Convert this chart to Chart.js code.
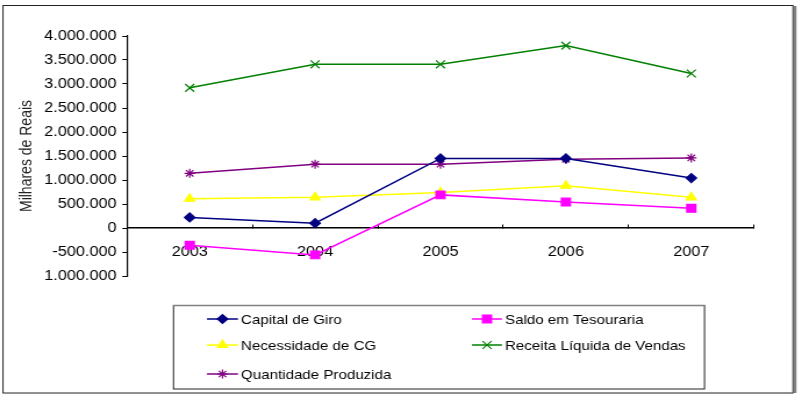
<!DOCTYPE html>
<html>
<head>
<meta charset="utf-8">
<script src="https://cdn.jsdelivr.net/npm/chart.js@4/dist/chart.umd.min.js"></script>
<style>
  html, body { margin: 0; padding: 0; background: #fff; }
  #myChart { display: block; }
</style>
</head>
<body>
<!-- drawn narrow, then stretched sideways like the original picture -->
<canvas id="myChart" width="690" height="398" style="width:802px;height:398px"></canvas>
<script>
const years = ['2003', '2004', '2005', '2006', '2007'];

const capitalDeGiro = [220000, 100000, 1450000, 1450000, 1040000];
const saldoTesouraria = [-360000, -560000, 690000, 540000, 410000];
const necessidadeCG = [610000, 640000, 740000, 880000, 640000];
const receitaLiquida = [2920000, 3410000, 3410000, 3800000, 3220000];
const quantidadeProduzida = [1140000, 1330000, 1330000, 1430000, 1460000];

const yMin = -1000000;
const yMax = 4000000;
const yStep = 500000;

const seriesNames = ['Capital de Giro', 'Saldo em Tesouraria', 'Necessidade de CG', 'Receita Líquida de Vendas', 'Quantidade Produzida'];

const SX = 802 / 690; // horizontal stretch of the picture

function fmtReais(v) {
    const s = String(Math.abs(v)).replace(/\B(?=(\d{3})+(?!\d))/g, '.');
    // the bottom label shows no minus sign in the original
    if (v < 0 && v > yMin) return '-' + s;
    return s;
}

function makeSet(label, data, color, style, radius) {
    return {
        label: label,
        data: data,
        borderColor: color,
        backgroundColor: color,
        pointBackgroundColor: color,
        pointBorderColor: color,
        pointStyle: style,
        pointRadius: radius,
        pointHoverRadius: radius,
        pointBorderWidth: 1.2,
        borderWidth: 1.5,
        tension: 0,
        fill: false
    };
}

// legend and outer frame, drawn in canvas units (x already divided by SX)
const frameAndLegend = {
    id: 'frameAndLegend',
    afterDraw(chart) {
        const c = chart.ctx;
        c.save();
        // outer frame
        c.strokeStyle = '#222';
        c.lineWidth = 1;
        c.strokeRect(3 / SX, 5.5, 790 / SX, 387.5);
        c.strokeStyle = '#808080';
        c.lineWidth = 2.5;
        c.beginPath();
        c.moveTo(795 / SX, 6);
        c.lineTo(795 / SX, 393);
        c.stroke();

        // legend box
        c.strokeStyle = '#222';
        c.lineWidth = 1;
        c.strokeRect(173.5 / SX, 305.5, 531 / SX, 83.5);
        c.strokeStyle = '#808080';
        c.lineWidth = 1.5;
        c.beginPath();
        c.moveTo(173 / SX, 305.5);
        c.lineTo(705 / SX, 305.5);
        c.stroke();

        const cols = [[207, 238, 241], [472, 502, 505]];
        const rows = [319, 345, 374];
        c.font = '13px "Liberation Sans", Arial, sans-serif';
        c.textBaseline = 'middle';
        chart.data.datasets.forEach((ds, i) => {
            const col = cols[i % 2];
            const y = rows[Math.floor(i / 2)];
            c.strokeStyle = ds.borderColor;
            c.lineWidth = 1.5;
            c.beginPath();
            c.moveTo(col[0] / SX, y);
            c.lineTo(col[1] / SX, y);
            c.stroke();
            c.fillStyle = ds.borderColor;
            c.strokeStyle = ds.borderColor;
            c.lineWidth = 1.2;
            Chart.helpers.drawPoint(c, {
                pointStyle: ds.pointStyle,
                radius: ds.pointRadius,
                rotation: 0,
                borderWidth: 1.2
            }, (col[0] + col[1]) / 2 / SX, y);
            c.fillStyle = '#000';
            c.fillText(ds.label, col[2] / SX, y + 1);
        });
        c.restore();
    }
};

window.addEventListener('DOMContentLoaded', () => {
    const ctx = document.getElementById('myChart').getContext('2d');

    new Chart(ctx, {
        type: 'line',
        data: {
            labels: years,
            datasets: [
                makeSet(seriesNames[0], capitalDeGiro, '#000080', 'rectRot', 4.5),
                makeSet(seriesNames[1], saldoTesouraria, '#FF00FF', 'rect', 5.5),
                makeSet(seriesNames[2], necessidadeCG, '#FFFF00', 'triangle', 5),
                makeSet(seriesNames[3], receitaLiquida, '#008000', 'crossRot', 5.5),
                makeSet(seriesNames[4], quantidadeProduzida, '#800080', 'star', 4.5)
            ]
        },
        options: {
            responsive: false,
            animation: false,
            devicePixelRatio: 1,
            layout: {
                padding: { left: 0, right: 690 - 754 / SX, top: 36, bottom: 398 - 276 }
            },
            plugins: {
                legend: { display: false },
                tooltip: { enabled: false }
            },
            scales: {
                x: {
                    type: 'category',
                    position: { y: 0 },
                    offset: true,
                    afterFit: (scale) => { scale.height = 0; },
                    grid: {
                        offset: true,
                        drawOnChartArea: false,
                        drawTicks: true,
                        tickLength: -4, // ticks hang below the zero line
                        color: '#000'
                    },
                    border: { display: true, color: '#000', width: 1.5 },
                    ticks: {
                        color: '#000',
                        padding: 20,
                        maxRotation: 0,
                        font: { family: '"Liberation Sans", Arial, sans-serif', size: 14 }
                    }
                },
                y: {
                    min: yMin,
                    max: yMax,
                    afterFit: (scale) => { scale.width = 127 / SX; },
                    grid: {
                        drawOnChartArea: false,
                        drawTicks: true,
                        tickLength: 4,
                        color: '#000'
                    },
                    border: { display: true, color: '#000', width: 1.2 },
                    ticks: {
                        stepSize: yStep,
                        color: '#000',
                        padding: 5,
                        callback: (v) => fmtReais(v),
                        font: { family: '"Liberation Sans", Arial, sans-serif', size: 14 }
                    },
                    title: {
                        display: true,
                        text: 'Milhares de Reais',
                        color: '#222',
                        padding: { top: 15, bottom: 0 },
                        font: { family: '"Liberation Sans", Arial, sans-serif', size: 14 }
                    }
                }
            }
        },
        plugins: [frameAndLegend]
    });
});
</script>
</body>
</html>
